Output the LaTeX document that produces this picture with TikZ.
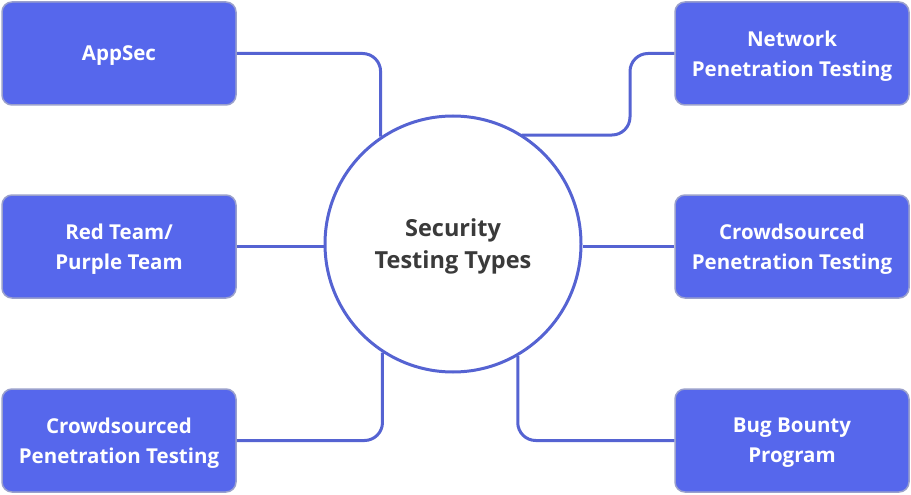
\documentclass[tikz,border=0pt]{standalone}
\usepackage{fontspec}
\setmainfont{Open Sans}
\definecolor{boxfill}{HTML}{5667EC}
\definecolor{boxborder}{HTML}{9AA0CC}
\definecolor{linecol}{HTML}{5563D2}
\definecolor{txtdark}{HTML}{3A3A3A}
\begin{document}
\begin{tikzpicture}[x=1pt,y=-1pt,
  itembox/.style={draw=boxborder, line width=1.5pt, fill=boxfill, rounded corners=10pt,
    minimum width=234pt, minimum height=103pt, text=white,
    font=\bfseries\fontsize{20.5}{30}\selectfont, align=center, inner sep=0pt,
    text depth=-1pt},
  hub/.style={circle, draw=linecol, line width=3pt, fill=white, minimum size=256pt,
    inner sep=0pt, text=txtdark, font=\bfseries\fontsize{23.5}{32}\selectfont, align=center,
    text depth=-4.5pt},
  link/.style={draw=linecol, line width=3pt, rounded corners=18pt}]
\useasboundingbox (0,0) rectangle (911,495);
\node[hub] (center) at (453,244) {Security\\Testing Types};
\node[itembox] (appsec) at (119,53.5) {AppSec};
\node[itembox] (redteam) at (119,246.5) {Red Team/\\Purple Team};
\node[itembox] (crowdL) at (119,440.5) {Crowdsourced\\Penetration Testing};
\node[itembox] (network) at (792,53.5) {Network\\Penetration Testing};
\node[itembox] (crowdR) at (792,246.5) {Crowdsourced\\Penetration Testing};
\node[itembox] (bug) at (792,440.5) {Bug Bounty\\Program};
\coordinate (nbend) at (630,135);
\draw[link] (appsec.east) -| (center.124.8);
\draw[link] (network.west) -| (nbend) -- (nbend -| center.58.4);
\draw[link] (redteam.east) -- (redteam.east -| center.west);
\draw[link] (crowdR.west) -- (crowdR.west -| center.east);
\draw[link] (center.237.9) |- (crowdL.east);
\draw[link] (center.300) |- (bug.west);
\end{tikzpicture}
\end{document}
